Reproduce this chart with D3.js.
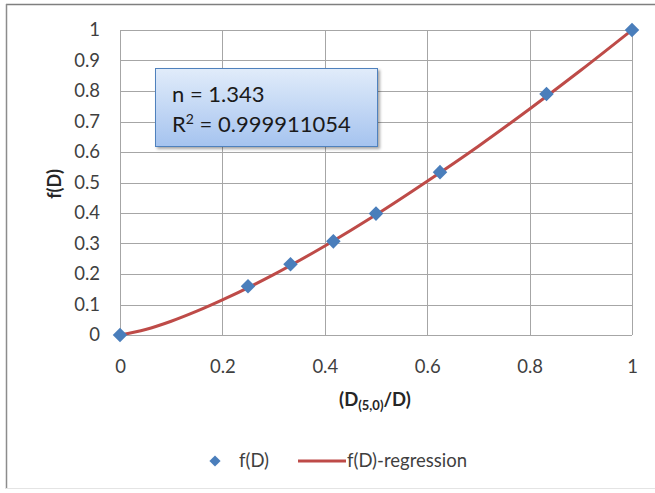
<!DOCTYPE html>
<html><head><meta charset="utf-8">
<script src="https://cdn.jsdelivr.net/npm/d3@7"></script>
<style>body{margin:0;background:#fff}svg{display:block}</style>
</head><body>
<script>
const xValues = [0, 0.25, 0.333, 0.4167, 0.5, 0.625, 0.833, 1];
const yValues = [0, 0.16, 0.232, 0.307, 0.398, 0.534, 0.79, 1];
const regX = [0, 0.05, 0.1, 0.15, 0.2, 0.3, 0.4, 0.5, 0.6, 0.7, 0.8, 0.9, 1];
const regY = [0, 0.018, 0.045, 0.078, 0.115, 0.198, 0.292, 0.394, 0.504, 0.619, 0.741, 0.868, 1];
const xTicks = [0, 0.2, 0.4, 0.6, 0.8, 1];
const yTicks = [0, 0.1, 0.2, 0.3, 0.4, 0.5, 0.6, 0.7, 0.8, 0.9, 1];
const seriesNames = ["f(D)", "f(D)-regression"];
const annotation = ["n = 1.343", "0.999911054"];

const W = 655, H = 493;
const svg = d3.select("body").append("svg").attr("width", W).attr("height", H);
const font = "Lato, 'Open Sans', sans-serif";

const defs = svg.append("defs");
const grad = defs.append("linearGradient").attr("id","boxg").attr("x1",0).attr("y1",0).attr("x2",0).attr("y2",1);
grad.append("stop").attr("offset","0%").attr("stop-color","#e1ecfa");
grad.append("stop").attr("offset","100%").attr("stop-color","#a5c3ef");
const filt = defs.append("filter").attr("id","sh").attr("x","-10%").attr("y","-10%").attr("width","130%").attr("height","140%");
filt.append("feDropShadow").attr("dx",2).attr("dy",2).attr("stdDeviation",1.5).attr("flood-color","#000").attr("flood-opacity",0.35);

// outer frame
svg.append("line").attr("x1",6).attr("x2",W).attr("y1",4.5).attr("y2",4.5).attr("stroke","#7f7f7f").attr("stroke-width",1.5);
svg.append("line").attr("x1",6.5).attr("x2",6.5).attr("y1",4).attr("y2",489).attr("stroke","#8c8c8c").attr("stroke-width",1.5);
svg.append("line").attr("x1",6).attr("x2",W).attr("y1",488.5).attr("y2",488.5).attr("stroke","#e4e4e4").attr("stroke-width",1);

const x = d3.scaleLinear().domain([0,1]).range([120,632]);
const y = d3.scaleLinear().domain([0,1]).range([335,30]);

const grid = svg.append("g");
grid.selectAll(".gx").data(xTicks).join("line")
  .attr("x1",d=>Math.round(x(d))+0.5).attr("x2",d=>Math.round(x(d))+0.5)
  .attr("y1",y(1)).attr("y2",y(0)).attr("stroke","#a6a6a6").attr("stroke-width",1);
grid.selectAll(".gy").data(yTicks).join("line")
  .attr("y1",d=>Math.round(y(d))+0.5).attr("y2",d=>Math.round(y(d))+0.5)
  .attr("x1",x(0)).attr("x2",x(1)).attr("stroke","#a6a6a6").attr("stroke-width",1);

const yAxis = svg.append("g").attr("transform",`translate(${x(0)},0)`)
  .call(d3.axisLeft(y).tickValues(yTicks).tickFormat(d3.format("")).tickSize(0).tickPadding(20));
const xAxis = svg.append("g").attr("transform",`translate(0,${y(0)})`)
  .call(d3.axisBottom(x).tickValues(xTicks).tickFormat(d3.format("")).tickSize(0).tickPadding(22));
[yAxis,xAxis].forEach(a=>{a.select(".domain").remove();
  a.selectAll("text").attr("font-family",font).attr("font-size",18.5).attr("fill","#3f3f3f");});
xAxis.selectAll("text").attr("dy","0").attr("y",38);

// axis titles
svg.append("text").attr("transform","translate(61,184) rotate(-90)").attr("text-anchor","middle")
  .attr("font-family",font).attr("font-size",18).attr("font-weight","bold").attr("fill","#262626").text("f(D)");
const xt = svg.append("text").attr("x",375).attr("y",406).attr("text-anchor","middle")
  .attr("font-family",font).attr("font-size",18.5).attr("font-weight","bold").attr("fill","#262626");
xt.append("tspan").text("(D");
xt.append("tspan").attr("font-size",13).attr("dy",4).text("(5,0)");
xt.append("tspan").attr("dy",-4).text("/D)");

// regression line
const line = d3.line().x((d,i)=>x(regX[i])).y(d=>y(d)).curve(d3.curveMonotoneX);
svg.append("path").datum(regY).attr("d",line).attr("fill","none").attr("stroke","#be4b48").attr("stroke-width",3);

// points
const diamond = d3.symbol().type(d3.symbolDiamond2).size(135);
svg.selectAll(".pt").data(yValues).join("path")
  .attr("d",diamond).attr("transform",(d,i)=>`translate(${x(xValues[i])},${y(d)})`)
  .attr("fill","#4a7ebb");

// annotation box
svg.append("rect").attr("x",155.5).attr("y",68.5).attr("width",222).attr("height",78)
  .attr("fill","url(#boxg)").attr("stroke","#4f81bd").attr("stroke-width",1).attr("filter","url(#sh)");
svg.append("text").attr("x",172).attr("y",102).attr("font-family",font).attr("font-size",22).attr("fill","#1a1a1a").text(annotation[0]);
const r2 = svg.append("text").attr("x",172).attr("y",132).attr("font-family",font).attr("font-size",22).attr("fill","#1a1a1a");
r2.append("tspan").text("R");
r2.append("tspan").attr("font-size",14).attr("dy",-8).text("2");
r2.append("tspan").attr("dy",8).text(" = " + annotation[1]);

// legend
const lg = svg.append("g");
lg.append("path").attr("d",d3.symbol().type(d3.symbolDiamond2).size(80)).attr("transform","translate(215,461)").attr("fill","#4a7ebb");
lg.append("text").attr("x",239).attr("y",467).attr("font-family",font).attr("font-size",18.5).attr("fill","#3f3f3f").text(seriesNames[0]);
lg.append("line").attr("x1",298).attr("x2",346).attr("y1",461).attr("y2",461).attr("stroke","#be4b48").attr("stroke-width",3);
lg.append("text").attr("x",347).attr("y",467).attr("font-family",font).attr("font-size",18.5).attr("fill","#3f3f3f").text(seriesNames[1]);
</script>
</body></html>
